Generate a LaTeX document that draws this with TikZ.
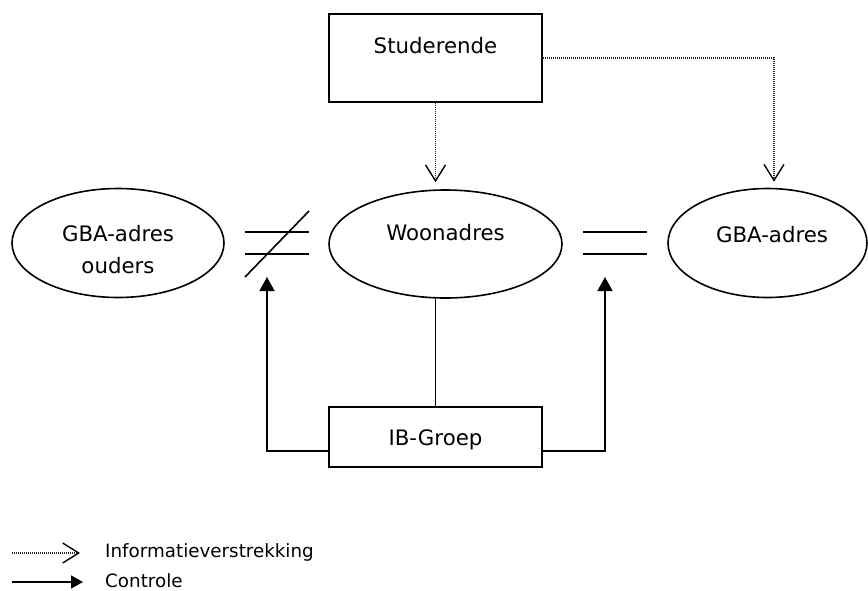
\documentclass[tikz,border=0pt]{standalone}
\usepackage{fontspec}
\setmainfont{DejaVu Sans}
\usetikzlibrary{arrows.meta,shapes.geometric}
\begin{document}
\begin{tikzpicture}[x=1pt,y=-1pt,
  box/.style={draw, line width=2pt, minimum width=213pt, inner sep=0pt},
  oval/.style={draw, ellipse, line width=1.6pt, inner sep=0pt},
  lbl/.style={font=\fontsize{21.3}{24}\selectfont, inner sep=0pt, anchor=base},
  legtxt/.style={font=\fontsize{18.3}{21}\selectfont, inner sep=0pt, anchor=base west},
  info/.style={draw=black!85, line width=1.1pt, dash pattern=on 1pt off 1pt,
    -{Straight Barb[length=16pt,width=20pt,line width=1.4pt,color=black]}},
  ctrl/.style={line width=1.5pt, -{Triangle[length=14pt,width=15pt]}},
  link/.style={line width=1.6pt},
  sym/.style={line width=1.6pt}
]
\useasboundingbox (0,0) rectangle (868,590);

% boxes
\node[box, minimum height=88pt] (stud) at (435.5,58) {};
\node[lbl] (studt) at (435.5,53) {Studerende};
\node[box, minimum height=60pt] (ib) at (435.5,437) {};
\node[lbl] (ibt) at (435.5,445) {IB-Groep};

% ellipses
\node[oval, minimum width=233pt, minimum height=108pt] (woon) at (445.5,244) {};
\node[lbl] (woont) at (445.5,240) {Woonadres};
\node[oval, minimum width=212pt, minimum height=109pt] (ouders) at (118,243) {};
\node[lbl] (oudt1) at (118,241.5) {GBA-adres};
\node[lbl] (oudt2) at (118,273) {ouders};
\node[oval, minimum width=199pt, minimum height=109pt] (gba) at (767.5,243) {};
\node[lbl] (gbat) at (772,242) {GBA-adres};

% information arrows
\draw[info, shorten >=7pt] (stud.south) -- (stud.south |- woon.north);
\draw[info, shorten >=6pt] (stud.east) -| ([xshift=6.5pt]gba.north);

% control
\coordinate (lt) at (267,277);
\coordinate (rt) at (605,277);
\draw[ctrl] ([yshift=-14pt]ib.west) -| (lt);
\draw[ctrl] ([yshift=-14pt]ib.east) -| (rt);
\draw[link] (ib.north) -- (ib.north |- woon.south);

% not equal / equal signs
\draw[sym] (245,232) -- (309,232);
\draw[sym] (245,254) -- (309,254);
\draw[sym] (245,277) -- (309,211);
\draw[sym] (583,232) -- (647,232);
\draw[sym] (583,254) -- (647,254);

% legend
\coordinate (l1a) at (12,553);
\coordinate (l1b) at (80,553);
\draw[info] (l1a) -- (l1b);
\node[legtxt] (leg1) at (105,557) {Informatieverstrekking};
\coordinate (l2a) at (12,582);
\coordinate (l2b) at (83,582);
\draw[line width=1.5pt, -{Triangle[length=12pt,width=13pt]}] (l2a) -- (l2b);
\node[legtxt] (leg2) at (105,587) {Controle};
\end{tikzpicture}
\end{document}
